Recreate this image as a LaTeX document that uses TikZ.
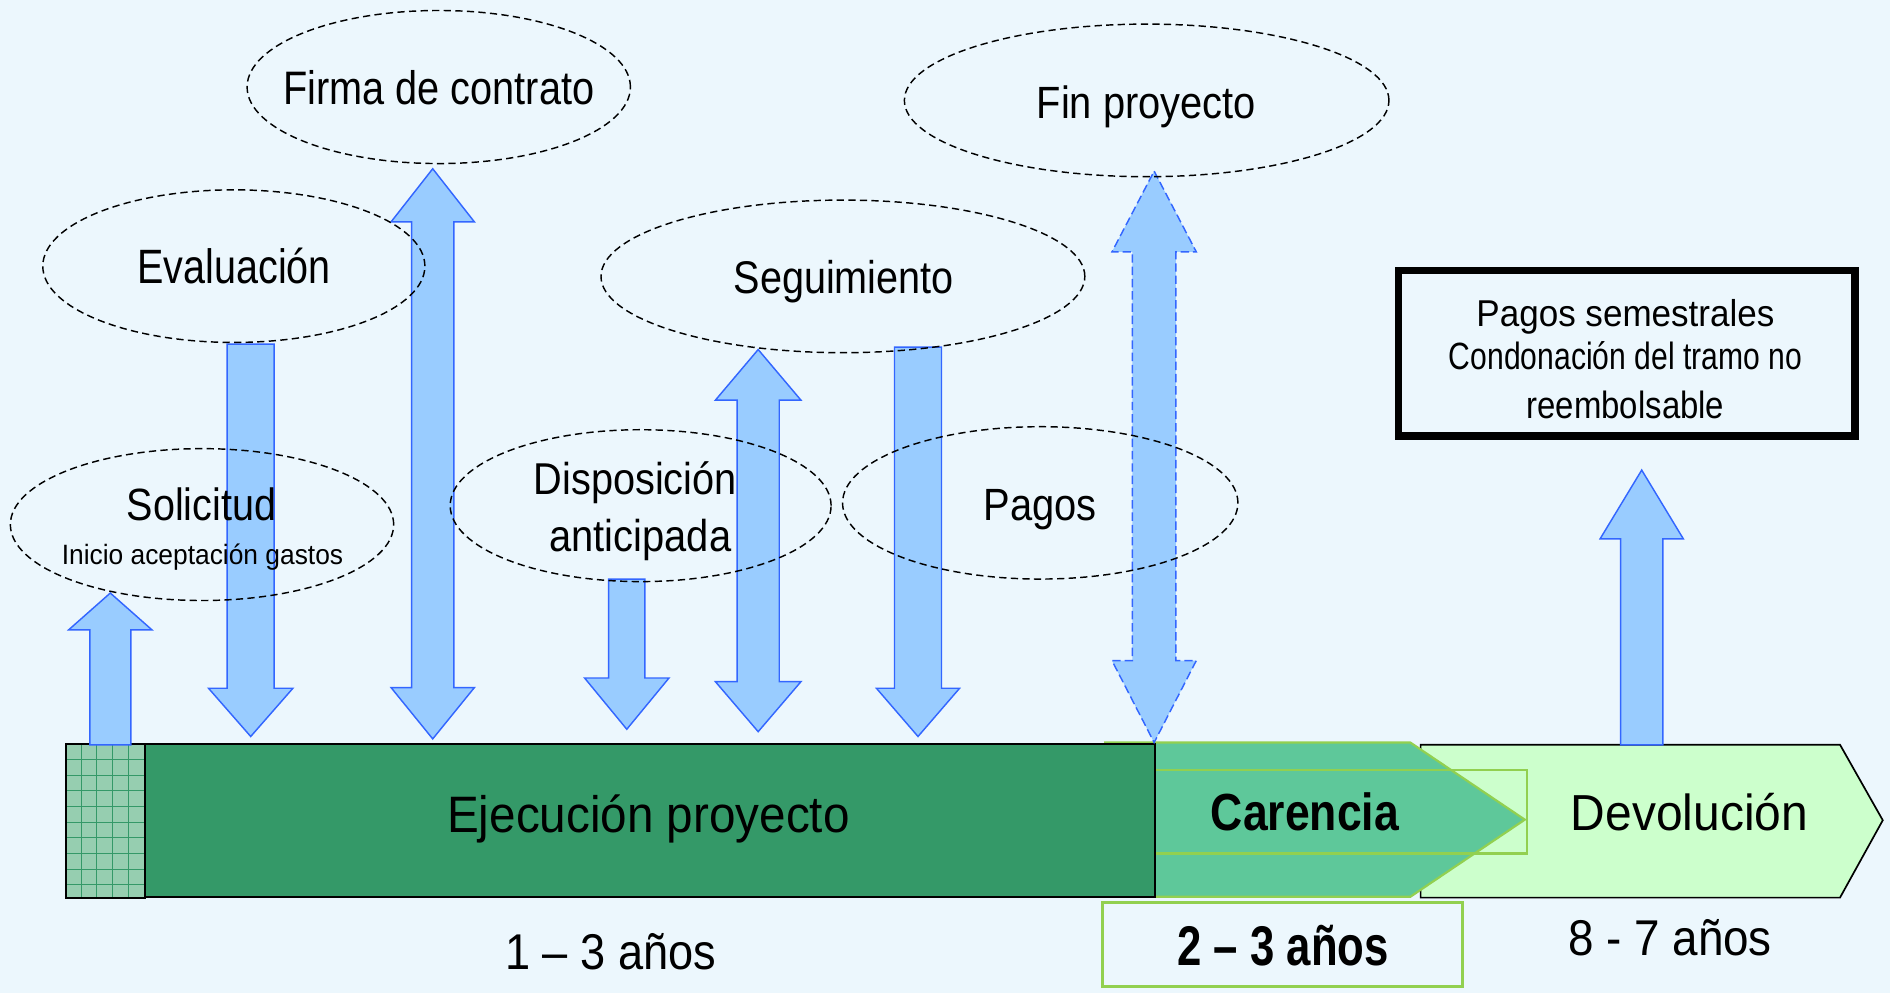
\documentclass[tikz,border=0pt]{standalone}
\usepackage{fontspec}
\setmainfont{Liberation Sans}
\usepackage{graphicx}
\usetikzlibrary{shapes.geometric}
\definecolor{bgc}{RGB}{236,247,253}
\definecolor{arrfill}{RGB}{153,204,255}
\definecolor{arrline}{RGB}{51,102,255}
\definecolor{ejec}{RGB}{52,153,104}
\definecolor{gridfill}{RGB}{150,206,176}
\definecolor{carfill}{RGB}{94,200,154}
\definecolor{carline}{RGB}{146,208,80}
\definecolor{devfill}{RGB}{204,255,204}
\newcommand\txt[3]{\fontsize{#1}{#1}\selectfont\resizebox{#2}{\height}{#3}}
\newcommand\arrdown[6]{\draw[blockarrow] ({#1-#2},#4) -- ({#1+#2},#4) -- ({#1+#2},#5) -- ({#1+#3},#5) -- (#1,#6) -- ({#1-#3},#5) -- ({#1-#2},#5) -- cycle;}
\newcommand\arrup[6]{\draw[blockarrow] ({#1-#2},#4) -- ({#1-#2},#5) -- ({#1-#3},#5) -- (#1,#6) -- ({#1+#3},#5) -- ({#1+#2},#5) -- ({#1+#2},#4) -- cycle;}
\newcommand\arrboth[8][]{\draw[blockarrow,#1] (#2,#5) -- ({#2+#4},#6) -- ({#2+#3},#6) -- ({#2+#3},#7) -- ({#2+#4},#7) -- (#2,#8) -- ({#2-#4},#7) -- ({#2-#3},#7) -- ({#2-#3},#6) -- ({#2-#4},#6) -- cycle;}
\begin{document}
\begin{tikzpicture}[x=0.5pt,y=-0.5pt,
  bubble/.style={draw=black, line width=0.6pt, dash pattern=on 3pt off 1.8pt, ellipse, inner sep=0pt},
  blockarrow/.style={fill=arrfill, draw=arrline, line width=0.6pt, line join=miter},
  lbl/.style={anchor=base, inner sep=0pt, text=black}]
\useasboundingbox (0,0) rectangle (1568,824);
\fill[bgc] (0,0) rectangle (1568,824);

% Devolucion
\draw[fill=devfill, line width=0.7pt] (1178.6,617.8) -- (1526.5,617.8) -- (1562,680.5) -- (1526.5,744.7) -- (1178.6,744.7) -- cycle;
% Carencia
\draw[fill=carfill, draw=carline, line width=0.9pt] (917,616) -- (1170,616) -- (1265,680) -- (1170,744) -- (917,744) -- cycle;
\draw[carline, line width=1pt] (917,638.8) rectangle (1266.6,708);
% grid box
\fill[gridfill] (54.4,617) rectangle (120.3,745);
\foreach \i in {1,...,4} \draw[ejec, line width=0.35pt] ({54.4+13*\i},617) -- ({54.4+13*\i},745);
\foreach \j in {1,...,9} \draw[ejec, line width=0.35pt] (54.4,{617+13*\j}) -- (120.3,{617+13*\j});
\draw[line width=0.8pt] (54.4,617) rectangle (120.3,745);
% Ejecucion
\draw[fill=ejec, line width=0.8pt] (120.3,617) rectangle (958,744.5);
% anos box
\draw[carline, line width=1.25pt] (915,748.4) rectangle (1213,818.6);
% Pagos semestrales box
\draw[line width=3pt] (1160,224.4) rectangle (1539,361.7);

% block arrows
\arrup{91.5}{17}{34.5}{618}{522.5}{492}
\arrdown{208}{19.5}{35}{285.5}{571}{611}
\arrboth{359}{17.5}{34.5}{140}{184}{570.5}{613}
\arrdown{520}{15}{35}{480.5}{562.5}{605}
\arrboth{629}{17.5}{35.5}{290}{332}{565.5}{607}
\arrdown{761.6}{19.5}{34.5}{288}{571}{611}
\arrboth[dash pattern=on 3.5pt off 1.6pt]{957.5}{18}{35}{142}{209}{548}{616}
\arrup{1362}{17.5}{34.5}{618}{447}{390}

% ellipses
\node[bubble, minimum width=159pt, minimum height=63.5pt] (eFirma) at (364,72.2) {};
\node[bubble, minimum width=158.5pt, minimum height=63.3pt] (eEval) at (194,220.8) {};
\node[bubble, minimum width=159pt, minimum height=63pt] (eSol) at (167.6,435.2) {};
\node[bubble, minimum width=158pt, minimum height=63pt] (eDisp) at (531.5,419.5) {};
\node[bubble, minimum width=200.7pt, minimum height=63.3pt] (eSeg) at (699.3,229.3) {};
\node[bubble, minimum width=164pt, minimum height=63.2pt] (ePagos) at (863,417.2) {};
\node[bubble, minimum width=201pt, minimum height=63.3pt] (eFin) at (951.3,83.3) {};

% labels
\node[lbl] (tFirma) at (364,86.5) {\txt{19.5pt}{129pt}{Firma de contrato}};
\node[lbl] (tEval) at (194.3,235.6) {\txt{20pt}{80.2pt}{Evaluación}};
\node[lbl] (tSol) at (167.2,432) {\txt{18.75pt}{62pt}{Solicitud}};
\node[lbl] (tIni) at (168,468.7) {\txt{11.6pt}{116.7pt}{Inicio aceptación gastos}};
\node[lbl] (tDisp) at (527,410.5) {\txt{18.5pt}{84.2pt}{Disposición}};
\node[lbl] (tAnt) at (531.3,457.5) {\txt{18.5pt}{75.4pt}{anticipada}};
\node[lbl] (tSeg) at (700,243.4) {\txt{19pt}{91.3pt}{Seguimiento}};
\node[lbl] (tPagos) at (863,431.9) {\txt{18.75pt}{46.9pt}{Pagos}};
\node[lbl] (tFin) at (951,98.2) {\txt{18.75pt}{90.9pt}{Fin proyecto}};
\node[lbl] (tPS) at (1348.5,271) {\txt{15.5pt}{123.6pt}{Pagos semestrales}};
\node[lbl] (tCond) at (1348.5,306.4) {\txt{15.75pt}{146.4pt}{Condonación del tramo no}};
\node[lbl] (tReem) at (1348.5,347.6) {\txt{15.75pt}{82pt}{reembolsable}};
\node[lbl] (tEjec) at (538,690.5) {\txt{21.25pt}{167pt}{Ejecución proyecto}};
\node[lbl] (tCar) at (1082.6,689.2) {\bfseries\txt{21.65pt}{78pt}{Carencia}};
\node[lbl] (tDev) at (1401.6,689.2) {\txt{21pt}{98.4pt}{Devolución}};
\node[lbl] (t13) at (506.5,804) {\txt{20.85pt}{87.5pt}{1 – 3 años}};
\node[lbl] (t23) at (1064.6,800.6) {\bfseries\txt{23.2pt}{87.7pt}{2 – 3 años}};
\node[lbl] (t87) at (1385.5,793) {\txt{20.85pt}{84.5pt}{8 - 7 años}};
\end{tikzpicture}
\end{document}
